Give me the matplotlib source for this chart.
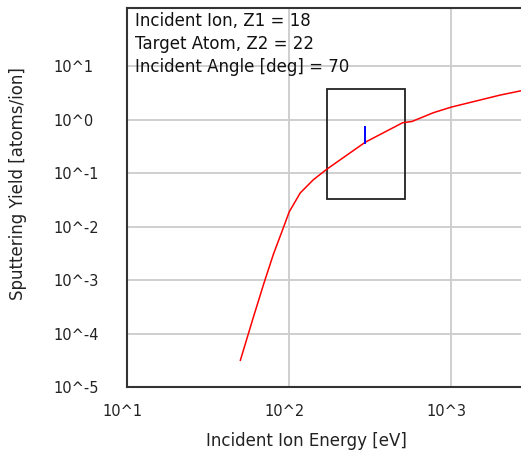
import numpy as np
import matplotlib
matplotlib.use("Agg")
import matplotlib.pyplot as plt
import matplotlib.transforms as mtransforms
from matplotlib.patches import Rectangle

# sputtering yield curve (energy in eV, yield in atoms/ion)
energy = [50, 60, 70, 80, 90, 100, 117, 141, 171, 294, 500, 571, 776, 1000, 2000, 2700]
yield_ = [3.2e-5, 2.0e-4, 9.0e-4, 3.1e-3, 8.0e-3, 0.019, 0.043, 0.076, 0.12,
          0.38, 0.88, 0.93, 1.36, 1.73, 2.9, 3.5]

# blue mark
mark_e = [295, 295]
mark_y = [0.37, 0.73]

# box
box_e = [172, 515]
box_y = [0.0334, 3.75]

xticks = [10, 100, 1000]
xticklabels = ["10^1", "10^2", "10^3"]
yticks = [1e-5, 1e-4, 1e-3, 1e-2, 1e-1, 1e0, 1e1]
yticklabels = ["10^-5", "10^-4", "10^-3", "10^-2", "10^-1", "10^0", "10^1"]

info = ["Incident Ion, Z1 = 18", "Target Atom, Z2 = 22", "Incident Angle [deg] = 70"]

W, H = 521, 454
fig = plt.figure(figsize=(W / 100, H / 100), dpi=100)
x0, x1, y0, y1 = 127, 521, 8, 387.3
ax = fig.add_axes([x0 / W, (H - y1) / H, (x1 - x0) / W, (y1 - y0) / H])

ax.set_xscale("log")
ax.set_yscale("log")
ax.set_xlim(10, 10 ** ((x1 - x0) / 162.2 + 1))
ax.set_ylim(1e-5, 10 ** ((y1 - y0) / 53.5 - 5))

ax.grid(True, which="major", color="#cccccc", linewidth=1.3)
ax.minorticks_off()
ax.set_axisbelow(True)

ax.plot(energy, yield_, color="red", linewidth=1.1)
ax.plot(mark_e, mark_y, color="blue", linewidth=1.4)
ax.add_patch(Rectangle((box_e[0], box_y[0]), box_e[1] - box_e[0], box_y[1] - box_y[0],
                       fill=False, edgecolor="#222222", linewidth=1.3))

ax.set_xticks(xticks)
ax.set_xticklabels(xticklabels, fontsize=10.5)
ax.set_yticks(yticks)
ax.set_yticklabels(yticklabels, fontsize=10.5, ha="left")
ax.tick_params(axis="x", length=0, pad=12, colors="#222222")
ax.tick_params(axis="y", length=0, pad=53, colors="#222222")
off = mtransforms.ScaledTranslation(-5 / 100, 0, fig.dpi_scale_trans)
for lab in ax.get_xticklabels():
    lab.set_transform(lab.get_transform() + off)

for s in ["left", "top", "bottom"]:
    ax.spines[s].set_color("#333333")
    ax.spines[s].set_linewidth(1.5)
ax.spines["right"].set_visible(False)

fig.text(306.7 / W, 1 - 440.7 / H, "Incident Ion Energy [eV]", fontsize=12,
         ha="center", va="center", color="#222222")
fig.text(18 / W, 1 - 184 / H, "Sputtering Yield [atoms/ion]", fontsize=12,
         ha="center", va="center", rotation=90, color="#222222")

for i, t in enumerate(info):
    fig.text(135 / W, 1 - (20.5 + 23.3 * i) / H, t, fontsize=12,
             ha="left", va="center", color="#111111")

fig.savefig("out.png", dpi=100)
